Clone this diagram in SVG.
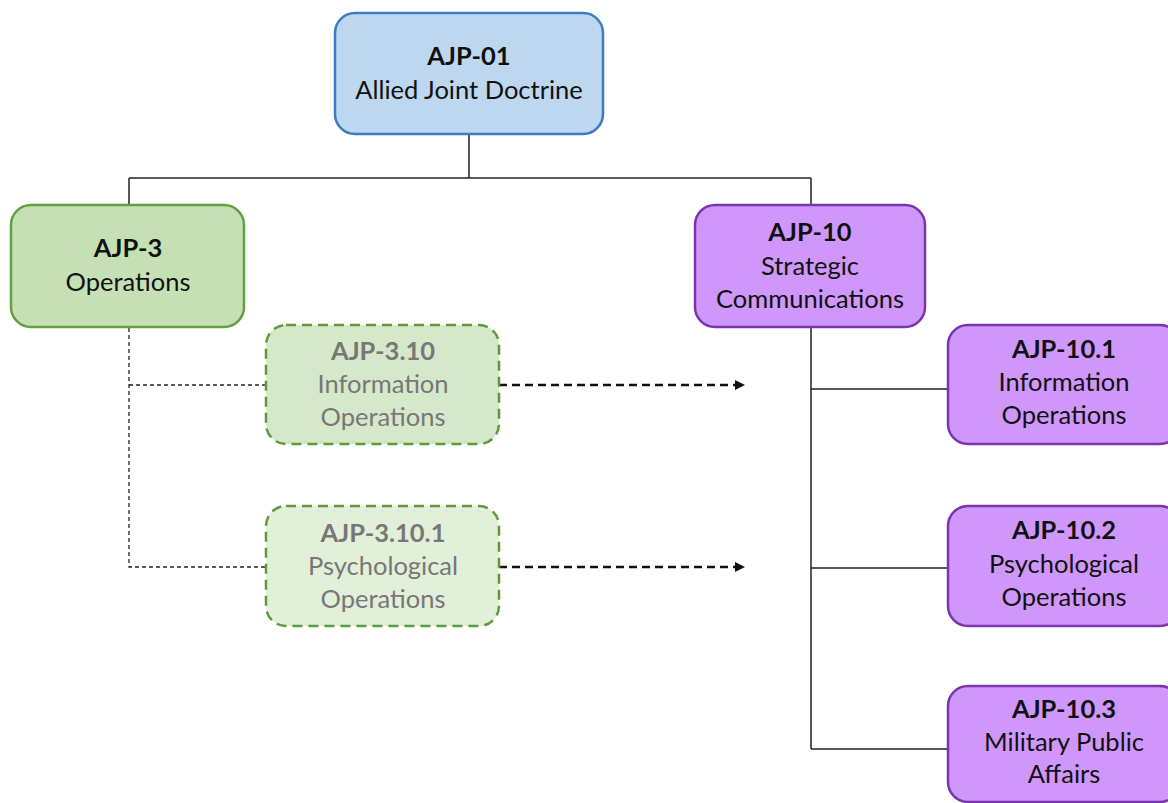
<svg xmlns="http://www.w3.org/2000/svg" width="1168" height="803" viewBox="0 0 1168 803">
<defs>
<style>
.t{font-family:Lato,"Liberation Sans",sans-serif;font-size:25.5px;text-anchor:middle;fill:#111}
.b{font-weight:bold}
.g{fill:#777}
.blue{fill:#bdd7ee;stroke:#3b7dc4;stroke-width:2.5}
.green{fill:#c5e0b4;stroke:#63a03f;stroke-width:2.5}
.gd1{fill:#d5e8ca;stroke:#5f9a3a;stroke-width:2.5;stroke-dasharray:10 6}
.gd2{fill:#e2efd9;stroke:#5f9a3a;stroke-width:2.5;stroke-dasharray:10 6}
.purple{fill:#cf97fb;stroke:#7a35ac;stroke-width:2.5}
.solid{fill:none;stroke:#222;stroke-width:1.5}
.thin{fill:none;stroke:#222;stroke-width:1.3;stroke-dasharray:4 3}
.arr{fill:none;stroke:#111;stroke-width:2.5;stroke-dasharray:8 5}
</style>
<marker id="ah" viewBox="0 0 10 10" refX="9" refY="5" markerWidth="4" markerHeight="4" orient="auto" markerUnits="strokeWidth">
<path d="M0,0 L10,5 L0,10 z" fill="#111"/>
</marker>
</defs>
<g id="connectors">
<path class="solid" d="M469,134 V178 M129,178 H811 M129,178 V205 M811,178 V205"/>
<path class="solid" d="M811,327 V749 M811,389 H948 M811,568 H948 M811,749 H948"/>
<path class="thin" d="M129,328 V567 H266 M129,385 H266"/>
<path class="arr" d="M499,385 H744" marker-end="url(#ah)"/>
<path class="arr" d="M499,567 H744" marker-end="url(#ah)"/>
</g>
<g id="ajp-01">
<rect class="blue" x="335" y="13" width="268" height="121" rx="20"/>
<text class="t b" x="469" y="65">AJP-01</text>
<text class="t" x="469" y="99">Allied Joint Doctrine</text>
</g>
<g id="ajp-3">
<rect class="green" x="11" y="205" width="233" height="122" rx="20"/>
<text class="t b" x="128" y="257">AJP-3</text>
<text class="t" x="128" y="291">Operations</text>
</g>
<g id="ajp-10">
<rect class="purple" x="695" y="205" width="230" height="122" rx="20"/>
<text class="t b" x="810" y="241">AJP-10</text>
<text class="t" x="810" y="275">Strategic</text>
<text class="t" x="810" y="308">Communications</text>
</g>
<g id="ajp-3-10">
<rect class="gd1" x="266" y="325" width="233" height="119" rx="20"/>
<text class="t b g" x="383" y="360">AJP-3.10</text>
<text class="t g" x="383" y="393">Information</text>
<text class="t g" x="383" y="426">Operations</text>
</g>
<g id="ajp-3-10-1">
<rect class="gd2" x="266" y="506" width="233" height="120" rx="20"/>
<text class="t b g" x="383" y="542">AJP-3.10.1</text>
<text class="t g" x="383" y="575">Psychological</text>
<text class="t g" x="383" y="608">Operations</text>
</g>
<g id="ajp-10-1">
<rect class="purple" x="948" y="325" width="232" height="119" rx="20"/>
<text class="t b" x="1064" y="358">AJP-10.1</text>
<text class="t" x="1064" y="391">Information</text>
<text class="t" x="1064" y="424">Operations</text>
</g>
<g id="ajp-10-2">
<rect class="purple" x="948" y="506" width="232" height="120" rx="20"/>
<text class="t b" x="1064" y="539">AJP-10.2</text>
<text class="t" x="1064" y="573">Psychological</text>
<text class="t" x="1064" y="606">Operations</text>
</g>
<g id="ajp-10-3">
<rect class="purple" x="948" y="686" width="232" height="116" rx="20"/>
<text class="t b" x="1064" y="718">AJP-10.3</text>
<text class="t" x="1064" y="751">Military Public</text>
<text class="t" x="1064" y="783">Affairs</text>
</g>
</svg>
